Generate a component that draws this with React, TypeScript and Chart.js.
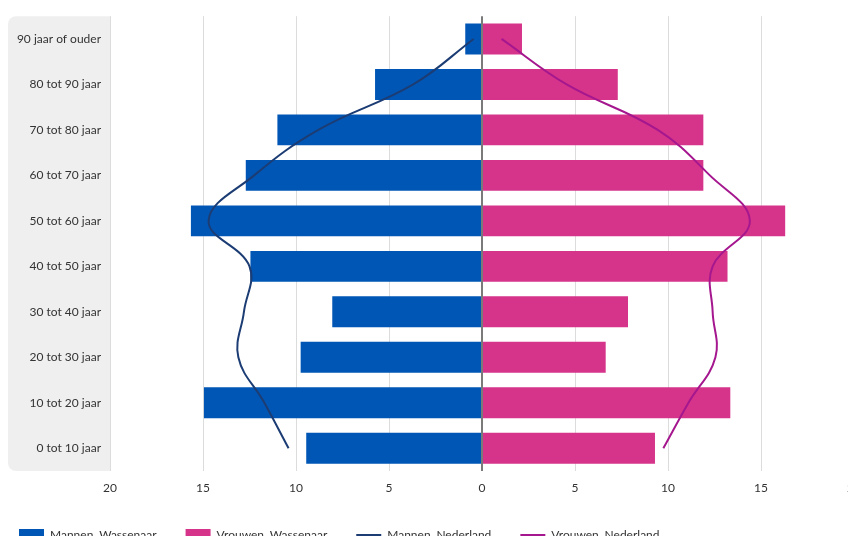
import React, { useEffect, useRef } from "react";
import { Chart, registerables } from "chart.js";

Chart.register(...registerables);

const categories = [
  "90 jaar of ouder",
  "80 tot 90 jaar",
  "70 tot 80 jaar",
  "60 tot 70 jaar",
  "50 tot 60 jaar",
  "40 tot 50 jaar",
  "30 tot 40 jaar",
  "20 tot 30 jaar",
  "10 tot 20 jaar",
  "0 tot 10 jaar",
];

const mannenWassenaar = [-0.9, -5.75, -11.0, -12.7, -15.65, -12.45, -8.05, -9.75, -14.95, -9.45];
const vrouwenWassenaar = [2.15, 7.3, 11.9, 11.9, 16.3, 13.2, 7.85, 6.65, 13.35, 9.3];
const mannenNederland = [-0.45, -3.7, -8.8, -12.25, -14.7, -12.5, -12.8, -13.1, -11.7, -10.4];
const vrouwenNederland = [1.05, 4.55, 9.45, 12.25, 14.4, 12.4, 12.4, 12.55, 11.1, 9.75];

const xTicks = [-20, -15, -10, -5, 0, 5, 10, 15, 20];

const FONT = "Lato, 'Open Sans', sans-serif";

const labelBoxPlugin = {
  id: "labelBox",
  beforeDraw(chart: any) {
    const { ctx, chartArea } = chart;
    const x = 8;
    const y = chartArea.top;
    const w = chartArea.left - x;
    const h = chartArea.bottom - chartArea.top;
    ctx.save();
    ctx.fillStyle = "#efefef";
    ctx.beginPath();
    if (ctx.roundRect) {
      ctx.roundRect(x, y, w, h, [8, 0, 0, 8]);
    } else {
      ctx.rect(x, y, w, h);
    }
    ctx.fill();
    ctx.restore();
  },
};

export default function App() {
  const ref = useRef<HTMLCanvasElement>(null);

  useEffect(() => {
    if (!ref.current) return;
    const chart = new Chart(ref.current, {
      type: "bar",
      data: {
        labels: categories,
        datasets: [
          {
            type: "bar",
            label: "Mannen, Wassenaar",
            data: mannenWassenaar,
            backgroundColor: "#0056b5",
            borderWidth: 0,
            grouped: false,
            barPercentage: 0.68,
            categoryPercentage: 1,
            order: 1,
            pointStyle: "rect",
          } as any,
          {
            type: "bar",
            label: "Vrouwen, Wassenaar",
            data: vrouwenWassenaar,
            backgroundColor: "#d6348a",
            borderWidth: 0,
            grouped: false,
            barPercentage: 0.68,
            categoryPercentage: 1,
            order: 1,
            pointStyle: "rect",
          } as any,
          {
            type: "line",
            label: "Mannen, Nederland",
            data: mannenNederland,
            indexAxis: "y",
            borderColor: "#1c3c74",
            backgroundColor: "#1c3c74",
            borderWidth: 2,
            pointRadius: 0,
            tension: 0.4,
            fill: false,
            order: 0,
            pointStyle: "line",
          } as any,
          {
            type: "line",
            label: "Vrouwen, Nederland",
            data: vrouwenNederland,
            indexAxis: "y",
            borderColor: "#a5178e",
            backgroundColor: "#a5178e",
            borderWidth: 2,
            pointRadius: 0,
            tension: 0.4,
            fill: false,
            order: 0,
            pointStyle: "line",
          } as any,
        ],
      },
      options: {
        indexAxis: "y",
        responsive: false,
        animation: false,
        layout: { padding: { left: -10, top: 15, right: 26, bottom: 0 } },
        scales: {
          x: {
            type: "linear",
            min: -20,
            max: 20,
            afterBuildTicks: (scale: any) => {
              scale.ticks = xTicks.map((v) => ({ value: v }));
            },
            afterFit: (scale: any) => {
              scale.height = 29;
            },
            ticks: {
              callback: (v: any) => String(Math.abs(Number(v))),
              color: "#333",
              font: { family: FONT, size: 12 },
              padding: 10,
              maxRotation: 0,
            },
            grid: {
              drawTicks: false,
              color: (ctx: any) => (ctx.tick && ctx.tick.value === 0 ? "#7a7a7a" : "#dcdcdc"),
              lineWidth: (ctx: any) => (ctx.tick && ctx.tick.value === 0 ? 2 : 1),
            },
            border: { display: false },
          },
          y: {
            type: "category",
            afterFit: (scale: any) => {
              scale.width = 120;
            },
            ticks: {
              color: "#333",
              font: { family: FONT, size: 12 },
              padding: 9,
            },
            grid: { display: false, drawTicks: false },
            border: { display: false },
          },
        },
        plugins: {
          legend: {
            position: "bottom",
            align: "start",
            labels: {
              usePointStyle: true,
              pointStyleWidth: 25,
              boxHeight: 14,
              padding: 29,
              color: "#333",
              font: { family: FONT, size: 12 },
              sort: (a: any, b: any) => a.datasetIndex - b.datasetIndex,
            },
          },
          tooltip: { enabled: false },
        },
      } as any,
      plugins: [labelBoxPlugin],
    });
    return () => chart.destroy();
  }, []);

  return (
    <div
      style={{
        position: "fixed",
        left: 0,
        top: 0,
        width: 848,
        height: 536,
        overflow: "hidden",
        background: "#fff",
      }}
    >
      <canvas ref={ref} width={880} height={551} style={{ display: "block" }} />
    </div>
  );
}
